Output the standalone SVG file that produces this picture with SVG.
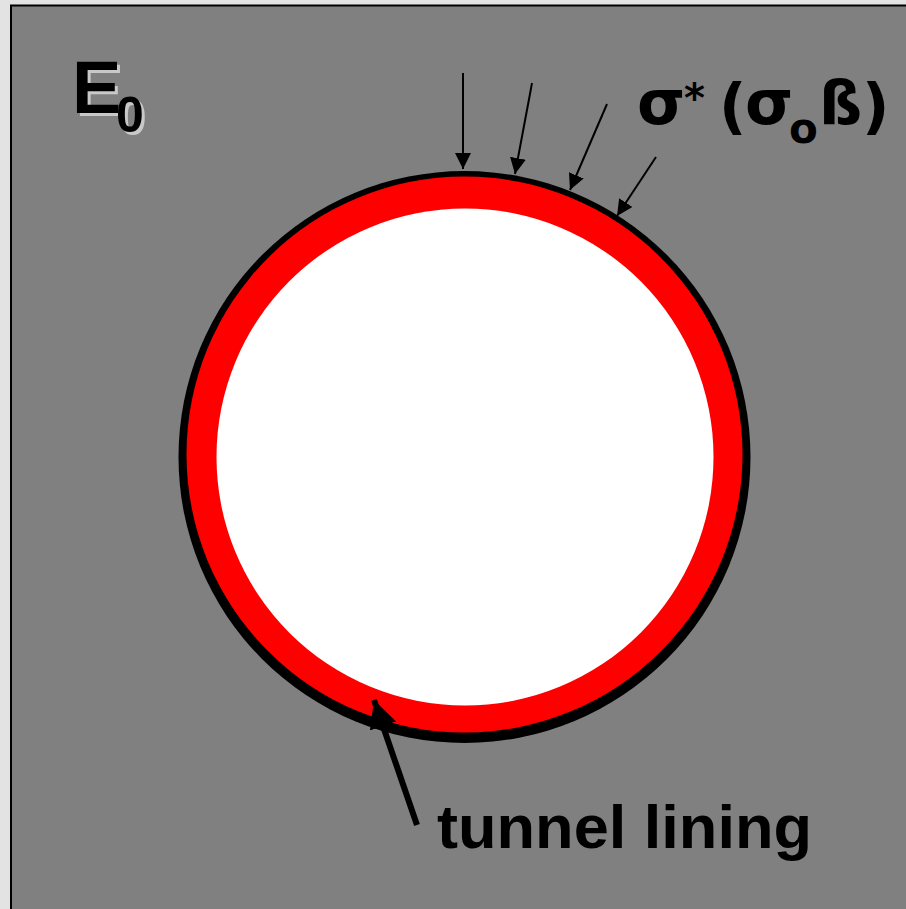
<svg xmlns="http://www.w3.org/2000/svg" width="906" height="909" viewBox="0 0 906 909">
<defs>
<marker id="ah" viewBox="0 0 10 10" refX="10" refY="5" markerWidth="8" markerHeight="8" markerUnits="strokeWidth" orient="auto">
<path d="M0,0 L10,5 L0,10 Z" fill="#000"/>
</marker>
<marker id="ahb" viewBox="0 0 10 10" refX="10" refY="5" markerWidth="4.6" markerHeight="4.8" markerUnits="strokeWidth" orient="auto">
<path d="M0,0 L10,5 L0,10 Z" fill="#000"/>
</marker>
</defs>
<style>
.lbl{font-family:"Liberation Sans",Arial,sans-serif;font-weight:bold;fill:#000}
.sym{font-family:"DejaVu Sans",Verdana,sans-serif;font-weight:bold;fill:#000}
.sh{fill:#c8c8c8}
.arr{stroke:#000;stroke-width:2;fill:none;marker-end:url(#ah)}
</style>
<rect x="0" y="0" width="906" height="909" fill="#e3e3e3"/>
<rect x="11" y="5.5" width="1000" height="1000" fill="#808080" stroke="#000" stroke-width="2"/>
<g id="tunnel">
<circle cx="464.5" cy="457" r="286" fill="#000"/>
<circle cx="464.5" cy="454.5" r="278" fill="#ff0000"/>
<circle cx="465" cy="457" r="248.5" fill="#ffffff"/>
</g>
<g id="E0">
<text class="lbl sh" x="75" y="116" font-size="74">E</text>
<text class="lbl" x="72" y="113" font-size="74">E</text>
<text class="lbl sh" x="119" y="135" font-size="50">0</text>
<text class="lbl" x="116" y="132" font-size="50">0</text>
</g>
<g id="stress-label">
<text class="sym" x="637" y="124" font-size="62">σ</text>
<text class="sym" x="684" y="112" font-size="40">*</text>
<text class="sym" x="719" y="127" font-size="60">(</text>
<text class="sym" x="745" y="124" font-size="62">σ</text>
<text class="sym" x="789" y="143" font-size="42">o</text>
<text class="sym" x="819" y="124" font-size="60">ß</text>
<text class="sym" x="862" y="127" font-size="60">)</text>
</g>
<g id="lining-label">
<text class="lbl" x="437" y="848" font-size="62" textLength="375" lengthAdjust="spacingAndGlyphs">tunnel lining</text>
</g>
<g id="connectors">
<line class="arr" x1="463" y1="73" x2="463" y2="169"/>
<line class="arr" x1="532" y1="83" x2="515" y2="174"/>
<line class="arr" x1="607" y1="104" x2="570" y2="190"/>
<line class="arr" x1="656" y1="157" x2="617" y2="216"/>
<line x1="417" y1="825" x2="374" y2="700" stroke="#000" stroke-width="6" marker-end="url(#ahb)"/>
</g>
</svg>
